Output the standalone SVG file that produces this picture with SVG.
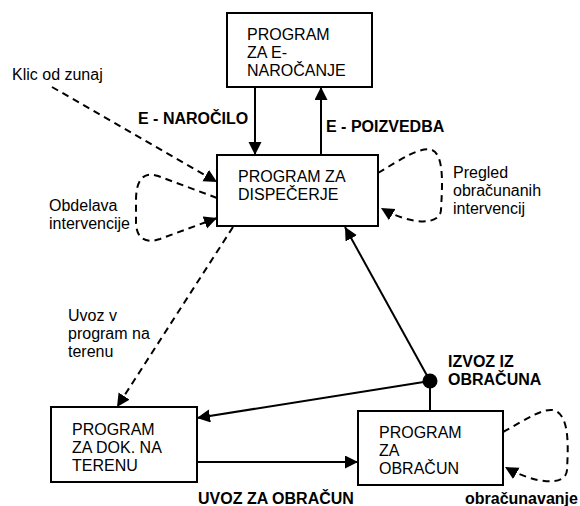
<svg xmlns="http://www.w3.org/2000/svg" width="580" height="506" viewBox="0 0 580 506">
<defs>
<marker id="ah" markerUnits="userSpaceOnUse" markerWidth="14" markerHeight="14" refX="13" refY="6.5" orient="auto">
<path d="M0,0 L13,6.5 L0,13 z" fill="#000"/>
</marker>
<style>
text{font-family:"Liberation Sans",Arial,sans-serif;font-size:16px;fill:#000}
.b{font-weight:bold}
.box{fill:#fff;stroke:#000;stroke-width:2}
.ln{fill:none;stroke:#000;stroke-width:2}
.ds{fill:none;stroke:#000;stroke-width:2;stroke-dasharray:7 5}
</style>
</defs>
<rect width="580" height="506" fill="#fff"/>
<g id="connectors">
<line class="ln" x1="255" y1="87" x2="255" y2="155" marker-end="url(#ah)"/>
<line class="ln" x1="321" y1="155" x2="321" y2="87" marker-end="url(#ah)"/>
<line class="ds" x1="52" y1="87" x2="217" y2="182" marker-end="url(#ah)"/>
<path class="ds" d="M217,198 L158,176 C141,170 136,184 136,200 L136,222 C136,238 145,244 160,239 L217,218" marker-end="url(#ah)"/>
<path class="ds" d="M378,173 C400,160 420,146 432,150 C445,155 442,190 441,210 C440,226 410,225 381,208" marker-end="url(#ah)"/>
<line class="ds" x1="233" y1="227" x2="117" y2="407" marker-end="url(#ah)"/>
<line class="ln" x1="430" y1="381" x2="345" y2="227" marker-end="url(#ah)"/>
<line class="ln" x1="430" y1="381" x2="197" y2="418" marker-end="url(#ah)"/>
<line class="ln" x1="430" y1="381" x2="430" y2="411"/>
<circle cx="430" cy="381" r="7.5" fill="#000"/>
<line class="ln" x1="197" y1="462" x2="358" y2="462" marker-end="url(#ah)"/>
<path class="ds" d="M503,432 C525,420 545,406 556,411 C570,418 568,450 567,470 C566,487 535,484 505,467" marker-end="url(#ah)"/>
</g>
<g id="n-enarocanje">
<rect class="box" x="227" y="13" width="145" height="74"/>
<text x="247" y="40">PROGRAM</text>
<text x="247" y="58">ZA E-</text>
<text x="247" y="76">NAROČANJE</text>
</g>
<g id="n-dispecerje">
<rect class="box" x="217" y="155" width="161" height="71"/>
<text x="238" y="182">PROGRAM ZA</text>
<text x="238" y="200">DISPEČERJE</text>
</g>
<g id="n-teren">
<rect class="box" x="51" y="407" width="146" height="75"/>
<text x="72" y="435">PROGRAM</text>
<text x="72" y="453">ZA DOK. NA</text>
<text x="72" y="471">TERENU</text>
</g>
<g id="n-obracun">
<rect class="box" x="358" y="411" width="145" height="74"/>
<text x="379" y="438">PROGRAM</text>
<text x="379" y="456">ZA</text>
<text x="379" y="474">OBRAČUN</text>
</g>
<g id="labels">
<text x="12" y="80">Klic od zunaj</text>
<text class="b" x="138" y="124">E - NAROČILO</text>
<text class="b" x="326" y="132">E - POIZVEDBA</text>
<text x="49" y="211">Obdelava</text>
<text x="49" y="229">intervencije</text>
<text x="453" y="178">Pregled</text>
<text x="453" y="196">obračunanih</text>
<text x="453" y="214">intervencij</text>
<text x="68" y="321">Uvoz v</text>
<text x="68" y="339">program na</text>
<text x="68" y="357">terenu</text>
<text class="b" x="448" y="367">IZVOZ IZ</text>
<text class="b" x="448" y="385">OBRAČUNA</text>
<text class="b" x="198" y="504">UVOZ ZA OBRAČUN</text>
<text class="b" x="465" y="504">obračunavanje</text>
</g>
</svg>
